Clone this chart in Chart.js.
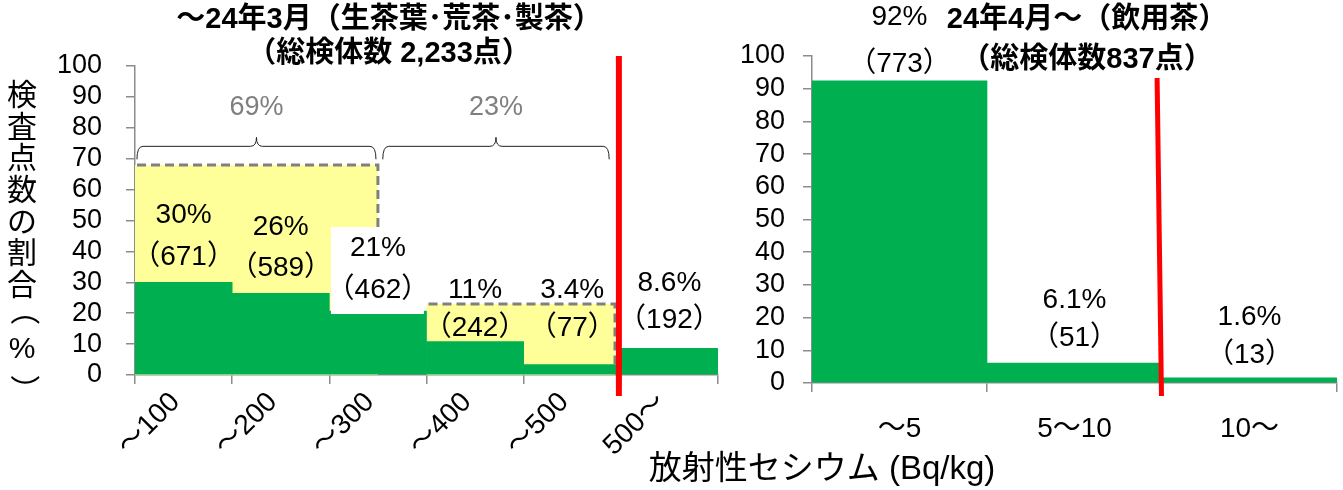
<!DOCTYPE html>
<html>
<head>
<meta charset="utf-8">
<script src="https://cdn.jsdelivr.net/npm/chart.js@4.4.1/dist/chart.umd.min.js"></script>
<style>
  body { margin: 0; background: #fff; }
  #page { position: relative; width: 1343px; height: 490px; overflow: hidden; background: #fff; }
  #leftBox { position: absolute; left: 0; top: 0; width: 720px; height: 490px; }
  #rightBox { position: absolute; left: 720px; top: 0; width: 623px; height: 490px; }
  #xTitle { position: absolute; left: 572px; top: 449px; width: 500px; text-align: center;
    font: 33px 'Liberation Sans', 'Noto Sans CJK JP', sans-serif; line-height: 38px; color: #000; }
</style>
</head>
<body>
<div id="page">
  <div id="leftBox"><canvas id="leftChart" width="720" height="490"></canvas></div>
  <div id="rightBox"><canvas id="rightChart" width="623" height="490"></canvas></div>
  <div id="xTitle">放射性セシウム (Bq/kg)</div>
</div>
<script>
// data
const leftCategories = ['～100', '～200', '～300', '～400', '～500', '500～'];
const leftValues = [30.0, 26.4, 20.7, 10.8, 3.4, 8.6];
const leftPctLabels = ['30%', '26%', '21%', '11%', '3.4%', '8.6%'];
const leftCounts = [671, 589, 462, 242, 77, 192];
const leftGroupLabels = ['69%', '23%'];
const leftGroupTops = [68, 23];

const rightCategories = ['～5', '5～10', '10～'];
const rightValues = [92.4, 6.1, 1.6];
const rightPctLabels = ['92%', '6.1%', '1.6%'];
const rightCounts = [773, 51, 13];

const leftTitle = ['～24年3月（生茶葉･荒茶･製茶）', '（総検体数 2,233点）'];
const rightTitle = ['24年4月～（飲用茶）', '（総検体数837点）'];
const yTitle = '検査点数の割合（%）';

// layout (category / value units, label line gaps in px)
const bandSpans = [[-0.5, 2.0], [2.5, 4.44]];
const braceSpans = [[-0.48, 1.98], [2.05, 4.38]];
const leftLabelAt = [38, 34.6, 27.5, 15.2, 15.2, 17.8];
const leftLabelGap = [42, 41, 42, 38, 38, 37];
const rightLabelAt = [97.6, 13.8, 8.6];
const rightLabelGap = [47, 38, 38];

const GREEN = '#00B050';
const YELLOW = '#FFFF99';
const RED = '#FF0000';
const AXIS = '#8c8c8c';
const FONT = "'Liberation Sans', 'Noto Sans CJK JP', sans-serif";

function drawLabels(chart, pcts, counts, anchors, gaps, boxed) {
  const ctx = chart.ctx, x = chart.scales.x, y = chart.scales.y;
  ctx.save();
  ctx.font = '28px ' + FONT;
  ctx.textAlign = 'center';
  ctx.textBaseline = 'middle';
  pcts.forEach((p, i) => {
    const cx = x.getPixelForValue(i);
    const yb = y.getPixelForValue(anchors[i]);
    const yt = yb - gaps[i];
    if (boxed === i) {
      ctx.fillStyle = '#fff';
      ctx.fillRect(cx - 47, yt - 21, 93, yb - yt + 45);
    }
    ctx.fillStyle = '#000';
    ctx.fillText(p, cx, yt);
    ctx.fillText('（' + counts[i] + '）', cx, yb);
  });
  ctx.restore();
}

function drawTitle(ctx, lines, cx, ys) {
  ctx.save();
  ctx.font = 'bold 29px ' + FONT;
  ctx.textAlign = 'center';
  ctx.textBaseline = 'middle';
  ctx.fillStyle = '#000';
  lines.forEach((t, i) => ctx.fillText(t, cx, ys[i]));
  ctx.restore();
}

function drawBrace(ctx, x1, x2, h) {
  const xm = (x1 + x2) / 2;
  ctx.beginPath();
  ctx.moveTo(x1, h + 13);
  ctx.quadraticCurveTo(x1, h, x1 + 6, h);
  ctx.lineTo(xm - 6, h);
  ctx.quadraticCurveTo(xm, h, xm, h - 9);
  ctx.quadraticCurveTo(xm, h, xm + 6, h);
  ctx.lineTo(x2 - 6, h);
  ctx.quadraticCurveTo(x2, h, x2, h + 13);
  ctx.stroke();
}

const leftDeco = {
  id: 'leftDeco',
  beforeDatasetsDraw(chart) {
    const ctx = chart.ctx, x = chart.scales.x, y = chart.scales.y;
    ctx.save();
    ctx.fillStyle = YELLOW;
    bandSpans.forEach((s, k) => {
      const x1 = x.getPixelForValue(s[0]), x2 = x.getPixelForValue(s[1]);
      const yt = y.getPixelForValue(leftGroupTops[k]), y0 = y.getPixelForValue(0);
      ctx.fillRect(x1, yt, x2 - x1, y0 - yt);
    });
    ctx.restore();
  },
  afterDatasetsDraw(chart) {
    const ctx = chart.ctx, x = chart.scales.x, y = chart.scales.y;
    ctx.save();
    // dashed band outlines
    ctx.strokeStyle = '#808080';
    ctx.lineWidth = 3;
    ctx.setLineDash([9, 5]);
    bandSpans.forEach((s, k) => {
      const x1 = x.getPixelForValue(s[0]) + 2, x2 = x.getPixelForValue(s[1]);
      const yt = y.getPixelForValue(leftGroupTops[k]);
      const yb = y.getPixelForValue(leftValues[Math.round(s[1])]);
      ctx.beginPath();
      ctx.moveTo(x1, yt);
      ctx.lineTo(x2, yt);
      ctx.lineTo(x2, yb);
      ctx.stroke();
    });
    ctx.setLineDash([]);
    // braces and group labels
    ctx.strokeStyle = '#222';
    ctx.lineWidth = 1;
    const h = y.getPixelForValue(74);
    braceSpans.forEach((s, k) => {
      const x1 = x.getPixelForValue(s[0]), x2 = x.getPixelForValue(s[1]);
      drawBrace(ctx, x1, x2, h);
      ctx.font = '27px ' + FONT;
      ctx.fillStyle = '#7f7f7f';
      ctx.textAlign = 'center';
      ctx.textBaseline = 'middle';
      ctx.fillText(leftGroupLabels[k], (x1 + x2) / 2, y.getPixelForValue(86.4));
    });
    ctx.restore();
    drawLabels(chart, leftPctLabels, leftCounts, leftLabelAt, leftLabelGap, 2);
    // limit line
    ctx.save();
    ctx.strokeStyle = RED;
    ctx.lineWidth = 6;
    const xr = x.getPixelForValue(4.48);
    ctx.beginPath();
    ctx.moveTo(xr, 56);
    ctx.lineTo(xr, 396);
    ctx.stroke();
    ctx.restore();
  },
  afterDraw(chart) {
    const ctx = chart.ctx;
    drawTitle(ctx, leftTitle, 389, [20, 54]);
    // vertical y axis title, brackets turned for vertical writing
    ctx.save();
    ctx.font = '30px ' + FONT;
    ctx.textAlign = 'center';
    ctx.textBaseline = 'middle';
    ctx.fillStyle = '#000';
    Array.from(yTitle).forEach((ch, i) => {
      const cy = 97 + i * 31.6;
      if (ch === '（' || ch === '）') {
        ctx.save();
        ctx.translate(22, cy);
        ctx.rotate(Math.PI / 2);
        ctx.fillText(ch, ch === '（' ? -8 : 8, 0);
        ctx.restore();
      } else {
        ctx.fillText(ch, 22, cy);
      }
    });
    ctx.restore();
  }
};

const rightDeco = {
  id: 'rightDeco',
  afterDatasetsDraw(chart) {
    const ctx = chart.ctx, x = chart.scales.x;
    drawLabels(chart, rightPctLabels, rightCounts, rightLabelAt, rightLabelGap, -1);
    ctx.save();
    ctx.strokeStyle = RED;
    ctx.lineWidth = 5;
    ctx.beginPath();
    ctx.moveTo(x.getPixelForValue(1.472), 78);
    ctx.lineTo(x.getPixelForValue(1.497), 396);
    ctx.stroke();
    ctx.restore();
  },
  afterDraw(chart) {
    drawTitle(chart.ctx, rightTitle, 367, [20, 60]);
  }
};

function makeOptions(cfg) {
  return {
    responsive: false,
    animation: false,
    layout: { padding: { top: cfg.top, right: cfg.right, left: 0, bottom: 0 } },
    plugins: { legend: { display: false }, tooltip: { enabled: false } },
    scales: {
      x: {
        grid: { drawOnChartArea: false, offset: true, tickLength: 9, color: AXIS, lineWidth: 1.5 },
        border: { color: AXIS, width: 1.5 },
        ticks: {
          color: '#000', autoSkip: false,
          minRotation: cfg.rot, maxRotation: cfg.rot,
          padding: cfg.xPad, labelOffset: cfg.xShift,
          font: { family: FONT, size: 28 }
        },
        afterFit: s => { s.height = cfg.xHeight; }
      },
      y: {
        min: 0, max: 100,
        grid: { drawOnChartArea: false, tickLength: 9, color: AXIS, lineWidth: 1.5 },
        border: { color: AXIS, width: 1.5 },
        ticks: {
          stepSize: 10, autoSkip: false, color: '#000', padding: cfg.yPad,
          font: { family: FONT, size: 27 }
        },
        afterFit: s => { s.width = cfg.yWidth; }
      }
    }
  };
}

new Chart(document.getElementById('leftChart').getContext('2d'), {
  type: 'bar',
  data: {
    labels: leftCategories,
    datasets: [{
      data: leftValues,
      backgroundColor: GREEN,
      borderWidth: 0,
      barPercentage: 1,
      categoryPercentage: 1
    }]
  },
  options: makeOptions({ top: 66, right: 2, rot: 45, xPad: 2, xShift: -8, xHeight: 115, yPad: 24, yWidth: 135 }),
  plugins: [leftDeco]
});

new Chart(document.getElementById('rightChart').getContext('2d'), {
  type: 'bar',
  data: {
    labels: rightCategories,
    datasets: [{
      data: rightValues,
      backgroundColor: GREEN,
      borderWidth: 0,
      barPercentage: 1,
      categoryPercentage: 1
    }]
  },
  options: makeOptions({ top: 56, right: 6, rot: 0, xPad: 20, xShift: 0, xHeight: 107, yPad: 18, yWidth: 92 }),
  plugins: [rightDeco]
});
</script>
</body>
</html>
